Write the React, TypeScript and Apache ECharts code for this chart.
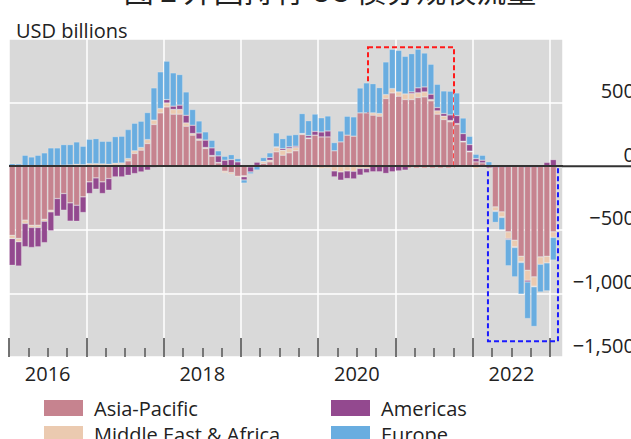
import React, { useEffect, useRef } from "react";
import * as echarts from "echarts";

const years = ["2016", "2017", "2018", "2019", "2020", "2021", "2022", "2023"];
const monthNames = ["01", "02", "03", "04", "05", "06", "07", "08", "09", "10", "11", "12"];
const categories: string[] = [];
years.forEach((y) => monthNames.forEach((m) => categories.push(`${y}-${m}`)));
const months = categories.slice(0, 86);

// x tick layout in month-index units (0 = start of Jan 2016)
const majorTicks = [0, 12, 24, 36, 48, 60, 72, 84];
const minorTicks = [3, 6, 9, 15, 18, 21, 27, 30, 33, 39, 42, 45, 51, 54, 57, 63, 66, 69, 75, 78, 81];
const yearLabelPos = [6, 30, 54, 78];
const yearLabels = ["2016", "2018", "2020", "2022"];

const yTickValues = [-1500, -1000, -500, 0, 500, 1000];

const asiaPacific = [
  -543, -568, -424, -464, -464, -417, -346, -254, -215, -288, -307, -241,
  -123, -92, -123, -97, 8, 10, 42, 100, 126, 178, 328, 419,
  466, 409, 409, 314, 244, 204, 139, 79, 26, -39, -50, -79,
  -75, 0, 0, 21, 34, 113, 86, 105, 121, 249, 217, 244,
  230, 230, 121, 191, 244, 236, 419, 419, 401, 393, 532, 576,
  550, 524, 524, 540, 545, 514, 409, 367, 349, 330, 191, 113,
  34, 26, -15, -320, -359, -516, -582, -708, -818, -870, -713, -708,
  -516,
];
const middleEastAfrica = [
  -26, -26, -26, -18, -18, -16, -13, 5, 8, 10, 15, 12,
  20, 20, 18, 15, 15, 15, 18, 21, 21, 31, 34, 34,
  31, 37, 37, 26, 13, 10, 8, 5, 3, -13, -13, -8,
  -8, -5, 5, 16, 13, 34, 39, 34, 26, 8, 5, -13,
  -18, -15, -37, -45, -37, -40, -18, -18, 18, 21, 31, 34,
  34, 44, 47, 37, 39, 10, 26, 26, 10, 5, 5, 5,
  -18, -10, -10, -31, -39, -52, -52, -44, -79, -73, -58, -52,
  -44,
];
const americas = [
  -210, -191, -183, -157, -152, -168, -149, -139, -131, -144, -126, -123,
  -92, -89, -92, -92, -84, -84, -71, -58, -45, -31, -10, -5,
  26, 26, 34, 60, 65, 47, 58, 60, 52, 47, 52, 34,
  -25, -40, 26, 0, 21, 5, 13, 13, 10, 0, 18, 30,
  39, 47, -47, -65, -60, -60, -52, -34, -44, -44, -57, -44,
  -37, -31, 13, 39, 39, 42, 26, 21, 44, 63, 60, 52,
  26, 21, 5, -5, -5, -8, -5, -5, -13, -5, 10, 30,
  52,
];
const europe = [
  20, 18, 86, 73, 86, 105, 144, 139, 162, 160, 176, 145,
  192, 197, 178, 181, 210, 211, 228, 217, 207, 213, 254, 289,
  303, 262, 241, 184, 124, 95, 65, 60, 40, 31, 39, 26,
  -25, -15, -30, 31, 37, 110, 79, 92, 92, 157, 118, 136,
  112, 118, 65, 86, 149, 152, 196, 236, 230, 204, 257, 309,
  327, 296, 301, 304, 267, 236, 183, 178, 187, 178, 123, 65,
  34, 39, 30, -86, -97, -207, -231, -249, -288, -312, -218, -220,
  -178,
];

// annotation boxes: [x start, x end] in month-index units, [y top, y bottom] in USD bn
const redBox = { x: [55.73, 69.08], y: [935, 0] };
const blueBox = { x: [74.35, 85.22], y: [0, -1376] };

const seriesNames = ["Asia-Pacific", "Middle East & Africa", "Americas", "Europe"];
const seriesColors = ["#c6838f", "#ebcab0", "#93498f", "#69ade0"];
const seriesData = [asiaPacific, middleEastAfrica, americas, europe];

const FONT = "'Open Sans', 'Noto Sans', sans-serif";

function fmt(v: number): string {
  if (v === 1000) return "";
  const s = Math.abs(v).toLocaleString("en-US");
  return v < 0 ? "\u2212" + s : s;
}

function legendCol(names: string[], left: number) {
  return {
    data: names,
    orient: "vertical",
    left,
    top: 393,
    height: 70,
    itemWidth: 39,
    itemHeight: 16,
    itemGap: 6,
    icon: "rect",
    itemStyle: { borderWidth: 0 },
    textStyle: { fontSize: 20, color: "#222", fontFamily: FONT, padding: [0, 0, 0, 6] },
  };
}

export default function App() {
  const ref = useRef<HTMLDivElement>(null);
  useEffect(() => {
    if (!ref.current) return;
    const chart = echarts.init(ref.current, null, { renderer: "svg" });
    const bars = seriesNames.map((name, i) => ({
      name,
      type: "bar",
      stack: "total",
      xAxisIndex: 0,
      yAxisIndex: 0,
      barCategoryGap: "6%",
      data: seriesData[i],
      itemStyle: {
        color: seriesColors[i],
        borderColor: "rgba(255,255,255,0.35)",
        borderWidth: 0.6,
      },
      ...(i === 0
        ? {
            markLine: {
              silent: true,
              symbol: ["none", "none"],
              label: { show: false },
              lineStyle: { color: "#333", width: 2, type: "solid" },
              data: [{ yAxis: 0 }],
            },
          }
        : {}),
    }));
    chart.setOption({
      animation: false,
      textStyle: { fontFamily: FONT },
      title: [
        {
          text: "USD billions",
          left: 11,
          top: 15,
          textStyle: { fontSize: 20, fontWeight: "normal", color: "#222", fontFamily: FONT },
        },
        {
          text: "图 2 外国持有 US 债券规模流量",
          left: 325,
          textAlign: "center",
          top: -31,
          textStyle: {
            fontSize: 30,
            fontWeight: "normal",
            color: "#222",
            fontFamily: "'Noto Sans CJK SC', sans-serif",
          },
        },
      ],
      grid: {
        left: 9,
        right: 68,
        top: 39,
        bottom: 82,
        show: true,
        backgroundColor: "#d9d9d9",
        borderWidth: 0,
        containLabel: false,
        outerBoundsMode: "none",
      },
      legend: [legendCol(seriesNames.slice(0, 2), 39), legendCol(seriesNames.slice(2, 4), 326)],
      xAxis: [
        {
          type: "category",
          data: months,
          position: "bottom",
          axisLine: { show: false, onZero: false },
          axisTick: { show: false },
          axisLabel: { show: false },
          splitLine: {
            show: true,
            interval: (i: number) => i % 12 === 0,
            lineStyle: { color: "#ffffff", width: 1.5 },
          },
        },
        {
          type: "value",
          min: 0,
          max: 86,
          position: "bottom",
          axisLine: { show: false, onZero: false },
          splitLine: { show: false },
          axisTick: {
            show: true,
            inside: true,
            length: 19,
            customValues: majorTicks,
            lineStyle: { color: "#444", width: 1.5 },
          },
          axisLabel: {
            customValues: yearLabelPos,
            formatter: (v: number) => yearLabels[yearLabelPos.indexOf(Math.round(v))] ?? "",
            fontSize: 20,
            color: "#222",
            margin: 6,
            fontFamily: FONT,
          },
        },
        {
          type: "value",
          min: 0,
          max: 86,
          position: "bottom",
          axisLine: { show: false, onZero: false },
          splitLine: { show: false },
          axisLabel: { show: false },
          axisTick: {
            show: true,
            inside: true,
            length: 9,
            customValues: minorTicks,
            lineStyle: { color: "#555", width: 1.5 },
          },
        },
      ],
      yAxis: {
        type: "value",
        position: "right",
        min: yTickValues[0],
        max: yTickValues[yTickValues.length - 1],
        interval: 500,
        axisLine: { show: false },
        axisTick: { show: false },
        splitLine: { show: true, lineStyle: { color: "#ffffff", width: 1.5 } },
        axisLabel: {
          formatter: fmt,
          fontSize: 20,
          color: "#222",
          align: "right",
          margin: 72,
          verticalAlign: "bottom",
          lineHeight: 24,
          fontFamily: FONT,
        },
      },
      series: [
        ...bars,
        {
          type: "line",
          xAxisIndex: 1,
          yAxisIndex: 0,
          data: [],
          silent: true,
          markArea: {
            silent: true,
            data: [
              [
                {
                  xAxis: redBox.x[0],
                  yAxis: redBox.y[0],
                  itemStyle: { color: "rgba(0,0,0,0)", borderColor: "#ff1a1a", borderWidth: 2, borderType: [5, 3] },
                },
                { xAxis: redBox.x[1], yAxis: redBox.y[1] },
              ],
              [
                {
                  xAxis: blueBox.x[0],
                  yAxis: blueBox.y[0],
                  itemStyle: { color: "rgba(0,0,0,0)", borderColor: "#1a1aff", borderWidth: 2, borderType: [5, 3] },
                },
                { xAxis: blueBox.x[1], yAxis: blueBox.y[1] },
              ],
            ],
          },
        },
      ],
    });
    const y0 = chart.convertToPixel({ yAxisIndex: 0 }, 0) as number;
    const xEnd = chart.convertToPixel({ xAxisIndex: 1 }, 86) as number;
    chart.setOption({
      graphic: [
        {
          type: "line",
          id: "zeroExt",
          shape: { x1: xEnd - 1, y1: y0, x2: 640, y2: y0 },
          style: { stroke: "#333", lineWidth: 2 },
          silent: true,
        },
      ],
    });
    return () => chart.dispose();
  }, []);
  return (
    <div
      ref={ref}
      style={{ position: "absolute", left: 0, top: 0, width: 631, height: 439, background: "#fff" }}
    />
  );
}
